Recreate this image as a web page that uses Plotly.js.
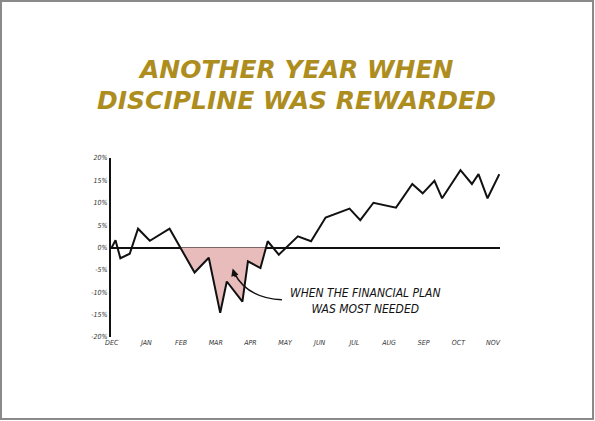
<!DOCTYPE html>
<html>
<head>
<meta charset="utf-8">
<script src="https://cdn.plot.ly/plotly-3.0.1.min.js"></script>
<style>
html,body{margin:0;padding:0;background:#fff;}
#wrap{position:relative;width:595px;height:421px;}
#chart{position:absolute;left:0;top:0;width:595px;height:421px;}
#frame{position:absolute;left:0;top:0;width:594px;height:420px;box-sizing:border-box;border:2px solid #8a8a8a;pointer-events:none;}
</style>
</head>
<body>
<div id="wrap"><div id="chart"></div><div id="frame"></div></div>
<script>
// Month positions (fractional index from DEC = 0)
const xPos = [0.00,0.11,0.25,0.52,0.76,1.10,1.67,2.39,2.80,3.13,3.32,3.77,3.93,4.29,4.50,4.82,5.37,5.75,6.17,6.86,7.17,7.55,8.20,8.67,8.97,9.31,9.53,10.06,10.39,10.58,10.84,11.18];
// Cumulative return, %
const returns = [0.0,1.6,-2.4,-1.4,4.2,1.5,4.2,-5.6,-2.3,-14.6,-7.6,-12.1,-3.1,-4.6,1.4,-1.6,2.5,1.4,6.7,8.7,6.1,10.0,8.9,14.2,12.1,14.9,11.0,17.3,14.2,16.4,11.0,16.4];
const monthLabels = ['DEC','JAN','FEB','MAR','APR','MAY','JUN','JUL','AUG','SEP','OCT','NOV'];
const yTickVals = [-20,-15,-10,-5,0,5,10,15,20];
const yTickText = ['-20%','-15%','-10%','-5%','0%','5%','10%','15%','20%'];
const titleLines = ['ANOTHER YEAR WHEN','DISCIPLINE WAS REWARDED'];
// Shaded drawdown: points between these indices (inclusive), bounded by zero crossings
const shadeFrom = 6, shadeTo = 14;

function crossing(i, j){
  const x0=xPos[i], x1=xPos[j], y0=returns[i], y1=returns[j];
  return x0 + (x1-x0)*(0-y0)/(y1-y0);
}
const sx=[crossing(shadeFrom,shadeFrom+1)], sy=[0];
for(let i=shadeFrom+1;i<shadeTo;i++){ sx.push(xPos[i]); sy.push(returns[i]); }
sx.push(crossing(shadeTo-1,shadeTo)); sy.push(0);
sx.push(sx[0]); sy.push(0);

const hand = "DejaVu Sans Condensed, DejaVu Sans, sans-serif";
const traces = [
  {x:sx, y:sy, mode:'lines', fill:'toself', fillcolor:'#e8bcbb', line:{width:0}, hoverinfo:'skip', showlegend:false},
  {x:xPos, y:returns, mode:'lines', line:{color:'#111', width:2}, showlegend:false}
];

const titleFont = {family:"DejaVu Sans", size:25, color:'#ae8d1f', style:'italic', weight:'bold'};
const layout = {
  width:595, height:421,
  margin:{l:111, r:95, t:158, b:83.5},
  paper_bgcolor:'#fff', plot_bgcolor:'#fff',
  xaxis:{
    range:[-0.02,11.2], tickmode:'array', tickvals:monthLabels.map((m,i)=>i), ticktext:monthLabels,
    showgrid:false, zeroline:false, showline:false, ticks:'',
    tickfont:{family:hand, size:7, color:'#333', style:'italic'}
  },
  yaxis:{
    range:[-20,20], tickmode:'array', tickvals:yTickVals, ticktext:yTickText,
    showgrid:false, zeroline:true, zerolinecolor:'#111', zerolinewidth:2,
    showline:true, linecolor:'#111', linewidth:2, ticks:'',
    tickfont:{family:hand, size:7, color:'#333', style:'italic'}
  },
  shapes:[
    {type:'path', xref:'x', yref:'y', path:'M 4.91,-11.7 Q 3.90,-11.3 3.53,-5.6', line:{color:'#111', width:1.5}}
  ],
  annotations:[
    {x:0.476, y:1.493, xref:'paper', yref:'paper', text:'<b>'+titleLines[0]+'</b>', showarrow:false, font:titleFont, xanchor:'center', yanchor:'middle', borderpad:0},
    {x:0.476, y:1.320, xref:'paper', yref:'paper', text:'<b>'+titleLines[1]+'</b>', showarrow:false, font:titleFont, xanchor:'center', yanchor:'middle', borderpad:0},
    {x:3.49, y:-4.7, xref:'x', yref:'y', ax:3, ay:10, text:'', showarrow:true, arrowhead:2, arrowsize:1, arrowwidth:1.5, arrowcolor:'#111'},
    {x:7.33, y:-12.0, xref:'x', yref:'y', text:'WHEN THE FINANCIAL PLAN<br>WAS MOST NEEDED', showarrow:false,
     font:{family:hand, size:12, color:'#111', style:'italic'}, align:'center'}
  ]
};
Plotly.newPlot('chart', traces, layout, {displayModeBar:false, staticPlot:true});
</script>
</body>
</html>
